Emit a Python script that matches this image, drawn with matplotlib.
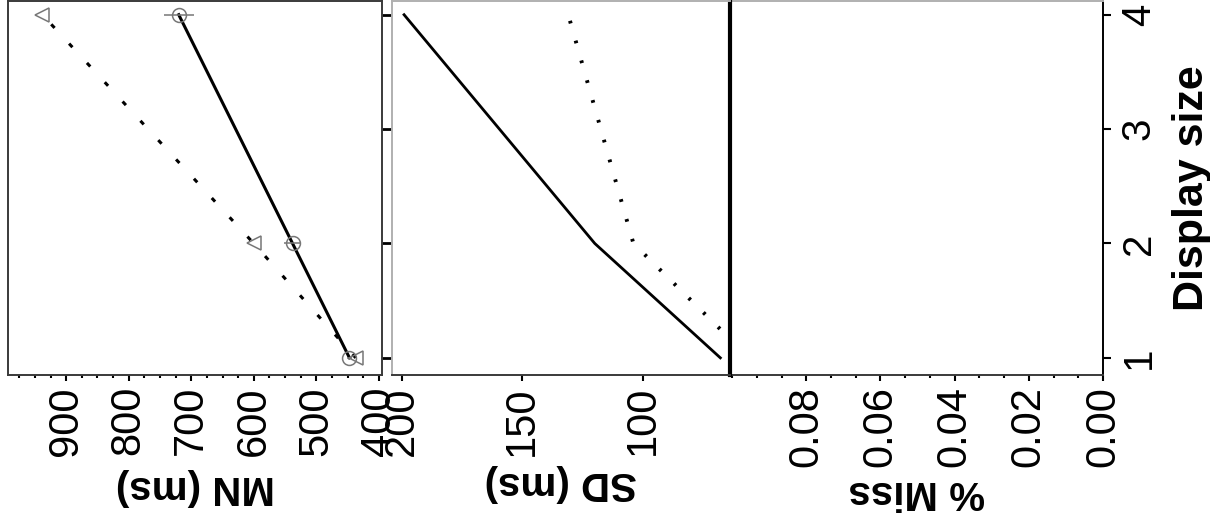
import matplotlib
matplotlib.use("Agg")
import matplotlib.pyplot as plt
from matplotlib.ticker import MultipleLocator, FormatStrFormatter

plt.rcParams['font.family'] = ['Liberation Sans', 'DejaVu Sans']

# display sizes where the conditions were measured
display_size = [1, 2, 4]
size_ticks = [1, 2, 3, 4]

# mean RT (ms) per condition
mn_circle = [447, 538, 720]
mn_circle_err = [4, 14, 24]
mn_triangle = [437, 600, 938]

# SD of RT (ms)
sd_solid = [68, 120, 199]
sd_dotted = [56, 104, 131]

mn_ticks = [400, 500, 600, 700, 800, 900]
sd_ticks = [100, 150, 200]
miss_ticks = [0.00, 0.02, 0.04, 0.06, 0.08]

W, H = 1210, 522
fig = plt.figure(figsize=(W / 100, H / 100), dpi=100)


def box(x0, x1, y0=1, y1=375):
    return [x0 / W, 1 - y1 / H, (x1 - x0) / W, (y1 - y0) / H]


ax1 = fig.add_axes(box(8, 382))
ax3 = fig.add_axes(box(731, 1103))
ax2 = fig.add_axes(box(392, 730))
ax3.set_facecolor('none')

grey = '#777777'
dark = '#3a3a3a'
light = '#b0b0b0'

# MN panel
ax1.plot(mn_triangle, display_size, color='black', lw=2.2,
         linestyle=(0, (1.6, 7.0)), zorder=2)
ax1.plot(mn_triangle, display_size, linestyle='none', marker='<', ms=10,
         mfc='none', mec=grey, mew=1.1, zorder=3)
ax1.plot(mn_circle, display_size, color='black', lw=2.2, zorder=2)
ax1.errorbar(mn_circle, display_size, xerr=mn_circle_err, fmt='o', ms=10,
             mfc='none', mec=grey, mew=1.1, ecolor=grey, elinewidth=1.1,
             capsize=0, zorder=3)
ax1.set_xlim(993, 395)
ax1.set_xticks(mn_ticks)
ax1.xaxis.set_minor_locator(MultipleLocator(25))

# SD panel
ax2.plot(sd_solid, display_size, color='black', lw=2.0)
ax2.plot(sd_dotted, display_size, color='black', lw=2.8,
         linestyle=(0, (0.7, 4.6)))
ax2.set_xlim(204, 64)
ax2.set_xticks(sd_ticks)

# % Miss panel (no misses recorded)
ax3.set_xlim(0.1003, 0.0)
ax3.set_xticks(miss_ticks)
ax3.xaxis.set_major_formatter(FormatStrFormatter('%.2f'))
ax3.xaxis.set_minor_locator(MultipleLocator(0.02 / 3))

for ax, label, ly in [(ax1, 'MN (ms)', -0.30), (ax2, 'SD (ms)', -0.289),
                      (ax3, '% Miss', -0.313)]:
    ax.set_ylim(0.85, 4.12)
    ax.set_yticks(size_ticks)
    ax.tick_params(axis='x', which='major', direction='out', length=4,
                   width=1.5, labelsize=30, labelrotation=90, pad=4)
    ax.tick_params(axis='x', which='minor', direction='out', length=2,
                   width=1.5)
    ax.set_xlabel(label, fontsize=29, fontweight='bold', rotation=180,
                  va='center')
    ax.xaxis.set_label_coords(0.5, ly)
    for s in ax.spines.values():
        s.set_linewidth(1.4)
    ax.spines['bottom'].set_color(dark)

# display size ticks sit on the right edge of the panels
ax1.yaxis.tick_right()
ax1.tick_params(axis='y', direction='out', length=7, width=2,
                labelright=False)
ax2.tick_params(axis='y', left=False, right=False, labelleft=False)

ax3.yaxis.tick_right()
ax3.yaxis.set_label_position('right')
ax3.tick_params(axis='y', direction='out', length=6, width=1.5,
                labelsize=29, labelrotation=90, pad=6)
for t in ax3.get_yticklabels():
    t.set_verticalalignment('center')
ax3.set_ylabel('Display size', fontsize=31, fontweight='bold', rotation=90,
               labelpad=10)

for s in ax1.spines.values():
    s.set_color(dark)
ax2.spines['top'].set_color(light)
ax2.spines['left'].set_color(light)
ax2.spines['right'].set_color('black')
ax2.spines['right'].set_linewidth(3.0)
ax3.spines['top'].set_color(light)
ax3.spines['left'].set_visible(False)
ax3.spines['right'].set_color('black')

fig.savefig('out.png', dpi=100)
